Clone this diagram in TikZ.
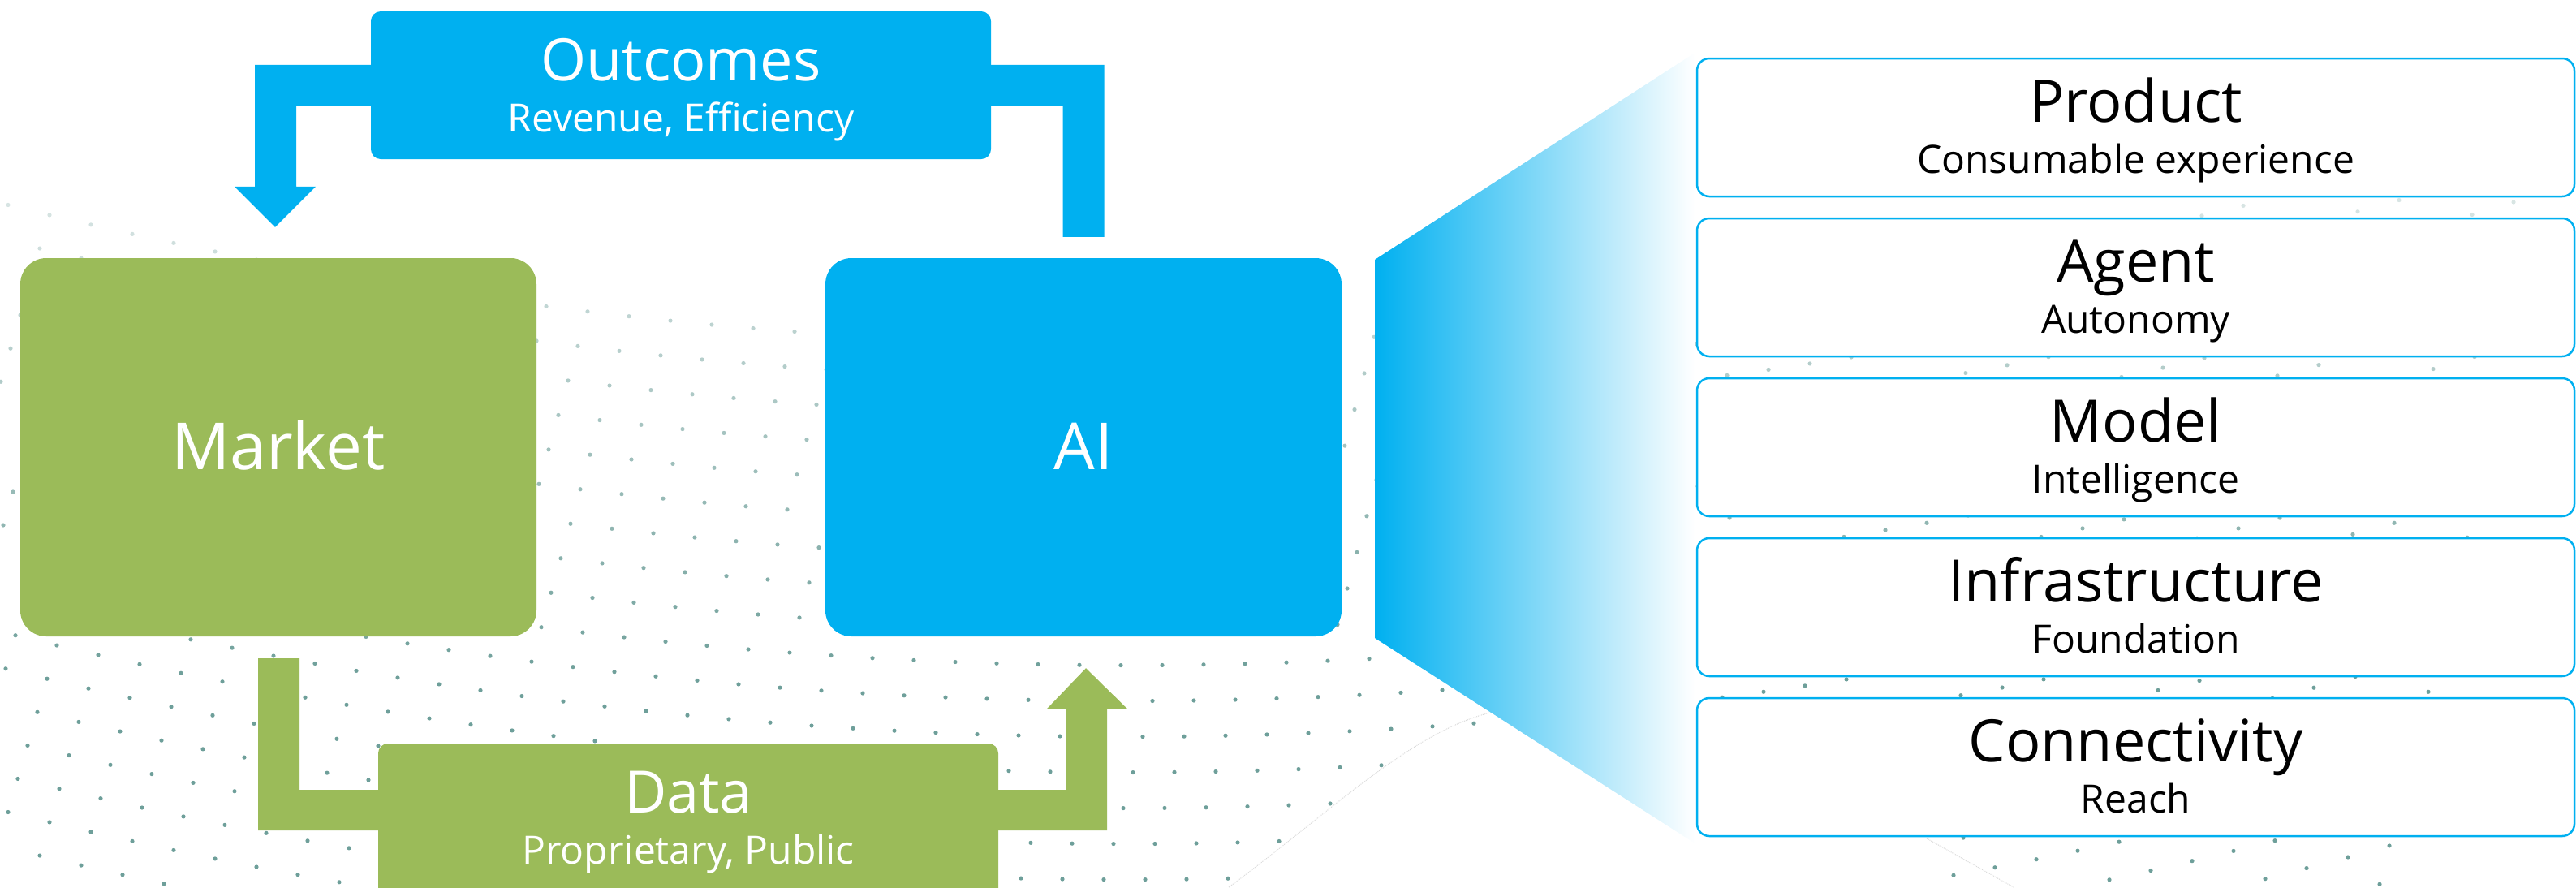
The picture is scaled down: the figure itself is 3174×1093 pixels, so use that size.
\documentclass[tikz,border=0pt]{standalone}
\usepackage{fontspec}
\setmainfont{Open Sans}
\usetikzlibrary{calc,backgrounds}
\definecolor{cy}{HTML}{00B0F0}
\definecolor{gr}{HTML}{9BBB59}
\definecolor{dotc}{HTML}{3E7F78}
\tikzset{
  bigbox/.style={rectangle, rounded corners=32pt, minimum width=636pt, minimum height=466pt, inner sep=0pt},
  banner/.style={rectangle, rounded corners=12pt, minimum width=764pt, inner sep=0pt},
  layer/.style={rectangle, draw=cy, line width=2.5pt, fill=white, rounded corners=15pt, minimum width=1081pt, minimum height=170pt, inner sep=0pt},
  bigtxt/.style={anchor=base, inner sep=0pt, text=white, font=\fontsize{80}{90}\selectfont},
  wttl/.style={anchor=base, inner sep=0pt, text=white, font=\fontsize{72}{80}\selectfont},
  wsub/.style={anchor=base, inner sep=0pt, text=white, font=\fontsize{48}{54}\selectfont},
  ttl/.style={anchor=base, inner sep=0pt, text=black, font=\fontsize{72}{80}\selectfont},
  sub/.style={anchor=base, inner sep=0pt, text=black, font=\fontsize{48}{54}\selectfont},
  dot/.style={fill=dotc},
}
\begin{document}
\begin{tikzpicture}[x=1pt,y=-1pt]
\useasboundingbox (0,0) rectangle (3174,1093);

% main boxes (shapes only)
\node[bigbox, fill=gr] (market) at (343,551) {};
\node[bigbox, fill=cy] (ai) at (1335,551) {};
\node[banner, fill=cy, minimum height=182pt] (outc) at (839,105) {};
\node[banner, fill=gr, minimum height=214pt] (data) at (848,1023) {};

% right stack
\foreach \n [count=\k from 0] in {product,agent,model,infra,conn}{
  \node[layer] (\n) at (2631.5,{157+197*\k}) {};
}

% outcomes block arrow (AI -> Market)
\fill[cy] ($(ai.north)+(25.5,-26)$) -- ($(ai.north)+(25.5,-238)$)
  -- ($(market.north)+(-29,-238)$) -- ($(market.north)+(-29,-88)$)
  -- ($(market.north)+(-54,-88)$) -- ($(market.north)+(-4,-38)$)
  -- ($(market.north)+(46,-88)$) -- ($(market.north)+(22,-88)$)
  -- ($(market.north)+(22,-188)$) -- ($(ai.north)+(-25.5,-188)$)
  -- ($(ai.north)+(-25.5,-26)$) -- cycle;

% data block arrow (Market -> AI)
\fill[gr] ($(market.south)+(-25,27)$) -- ($(market.south)+(-25,239)$)
  -- ($(ai.south)+(29,239)$) -- ($(ai.south)+(29,89)$)
  -- ($(ai.south)+(54,89)$) -- ($(ai.south)+(3,39)$)
  -- ($(ai.south)+(-45,89)$) -- ($(ai.south)+(-21,89)$)
  -- ($(ai.south)+(-21,189)$) -- ($(market.south)+(26,189)$)
  -- ($(market.south)+(26,27)$) -- cycle;

% texts
\node[bigtxt] (mkt-t) at (343,578) {Market};
\node[bigtxt] (ai-t) at (1335,578) {AI};
\node[wttl] (outc-t) at ($(outc.north)+(0,86)$) {Outcomes};
\node[wsub] (outc-s) at ($(outc.north)+(0,149)$) {Revenue, Efficiency};
\node[wttl] (data-t) at ($(data.north)+(0,86)$) {Data};
\node[wsub] (data-s) at ($(data.north)+(0,149)$) {Proprietary, Public};

\foreach \n/\t/\s in {product/Product/Consumable experience,agent/Agent/Autonomy,model/Model/Intelligence,infra/Infrastructure/Foundation,conn/Connectivity/Reach}{
  \node[ttl] (\n-t) at ($(\n.north)+(0,80)$) {\t};
  \node[sub] (\n-s) at ($(\n.north)+(0,143)$) {\s};
}

\begin{pgfonlayer}{background}
  % dotted wave background
  \foreach \i in {-6,...,62}{
    \foreach \j in {0,...,20}{
      \pgfmathsetmacro{\px}{51*\i-12*\j+10}
      \pgfmathsetmacro{\q}{\px/1000}
      \pgfmathsetmacro{\py}{250+44*\j+250*\q-90*\q*\q}
      \pgfmathsetmacro{\lim}{max(860,1093-(\px-1514)*0.663)}
      \pgfmathtruncatemacro{\ok}{(\px>0)*(\px<3174)*(\py>245)*(\py<1093)*(1-(\px>1450)*(\px<2400)*(\py>\lim))}
      \ifnum\ok=1
        \pgfmathsetmacro{\op}{min(0.75,0.2+0.65*(\py-245)/700)}
        \fill[dot, opacity=\op] (\px,\py) circle[radius=2.6pt];
      \fi
    }
  }
  \draw[gray!30, densely dotted, line width=1pt] (1514,1093) .. controls (1640,1000) and (1740,900) .. (1840,877) -- (2090,868);
  \draw[gray!30, densely dotted, line width=1pt] (2374,1033) -- (2481,1093);
  % gradient funnel
  \shade[left color=cy, middle color=cy!45, right color=white]
    ($(ai.north east)+(41,2)$) -- ($(product.north west)+(-1,-6)$)
    -- ($(conn.south west)+(-1,8)$) -- ($(ai.south east)+(41,2)$) -- cycle;
\end{pgfonlayer}
\end{tikzpicture}
\end{document}
